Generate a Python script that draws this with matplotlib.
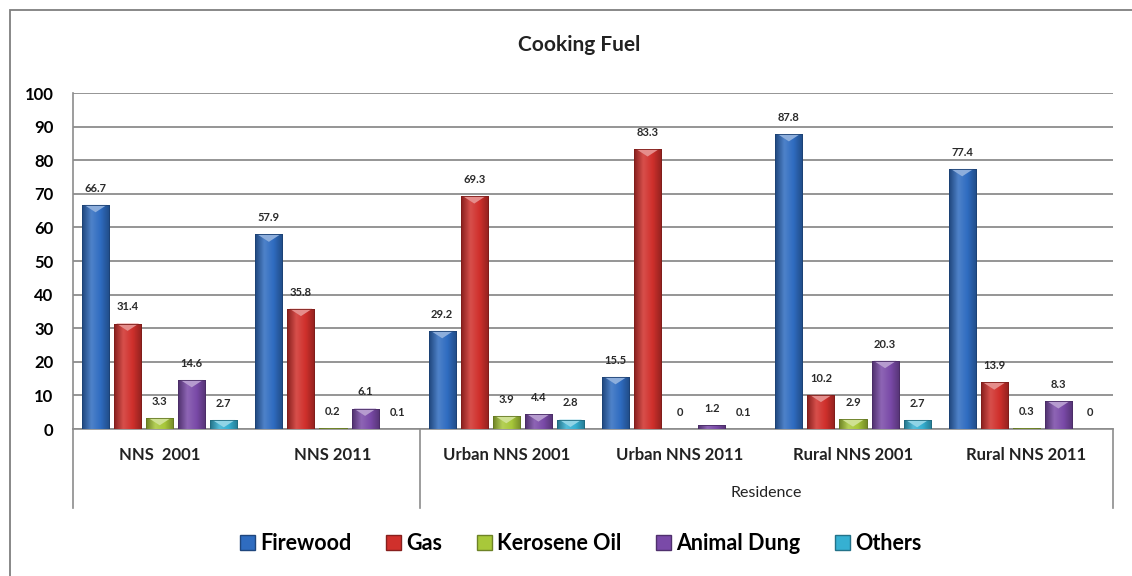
import numpy as np
import matplotlib
matplotlib.use("Agg")
import matplotlib.pyplot as plt
from matplotlib.colors import LinearSegmentedColormap, to_rgb
from matplotlib.patches import Rectangle, Polygon, Patch

plt.rcParams['font.family'] = ['Lato', 'DejaVu Sans']

# data
groups = ['NNS  2001', 'NNS 2011', 'Urban NNS 2001', 'Urban NNS 2011',
          'Rural NNS 2001', 'Rural NNS 2011']
fuels = ['Firewood', 'Gas', 'Kerosene Oil', 'Animal Dung', 'Others']
firewood = [66.7, 57.9, 29.2, 15.5, 87.8, 77.4]
gas = [31.4, 35.8, 69.3, 83.3, 10.2, 13.9]
kerosene = [3.3, 0.2, 3.9, 0, 2.9, 0.3]
dung = [14.6, 6.1, 4.4, 1.2, 20.3, 8.3]
others = [2.7, 0.1, 2.8, 0.1, 2.7, 0]
series = [firewood, gas, kerosene, dung, others]
colors = ['#2f6cc0', '#d0302c', '#a8c83a', '#7a4aa8', '#36b0d2']
yticks = list(range(0, 101, 10))

fig = plt.figure(figsize=(11.32, 5.76), dpi=100)
ax = fig.add_axes([0.0645, 0.2552, 0.9187, 0.5833])

x = np.arange(len(groups))
step = 0.185
width = 0.156


def shade(c, f):
    r = np.array(to_rgb(c))
    if f > 0:
        return tuple(r + (1 - r) * f)
    return tuple(r * (1 + f))


for i, (vals, c) in enumerate(zip(series, colors)):
    pos = x + (i - 2) * step
    bars = ax.bar(pos, vals, width, color=c, edgecolor=shade(c, -0.35),
                  linewidth=0.6, zorder=3)
    cm = LinearSegmentedColormap.from_list(
        'g', [shade(c, -0.35), shade(c, 0.15), c, shade(c, -0.3)])
    grad = np.linspace(0, 1, 64).reshape(1, -1)
    for b, v in zip(bars, vals):
        if v <= 0:
            continue
        x0 = b.get_x()
        im = ax.imshow(grad, extent=(x0, x0 + width, 0, v), aspect='auto',
                       cmap=cm, zorder=3.5, interpolation='bicubic')
        im.set_clip_path(b)
        if v > 2.5:
            tri = Polygon([(x0 + width * 0.08, v), (x0 + width * 0.92, v),
                           (x0 + width / 2, v - 2.2)], closed=True,
                          facecolor=shade(c, 0.45), edgecolor='none', zorder=4)
            ax.add_patch(tri)
        ax.add_patch(Rectangle((x0, 0), width, v, fill=False,
                               edgecolor=shade(c, -0.4), linewidth=0.6, zorder=4))
    for p, v in zip(pos, vals):
        ax.annotate('%g' % v, (p, v), xytext=(0, 8), textcoords='offset points',
                    ha='center', va='bottom', fontsize=8, fontweight='bold',
                    color='#2a2a2a')

ax.set_xlim(-0.5, len(groups) - 0.5)
ax.set_ylim(0, 100)
ax.set_yticks(yticks)
ax.tick_params(axis='y', length=0, labelsize=12, pad=14)
for lab in ax.get_yticklabels():
    lab.set_fontweight('bold')
ax.set_xticks([])
ax.yaxis.grid(True, color='#8c8c8c', linewidth=1.3, zorder=0)
ax.set_axisbelow(True)
for s in ['top', 'right']:
    ax.spines[s].set_visible(False)
ax.spines['left'].set_color('#8c8c8c')
ax.spines['bottom'].set_color('#8c8c8c')
ax.spines['left'].set_linewidth(1.2)
ax.spines['bottom'].set_linewidth(1.2)

# category axis
tr = ax.get_xaxis_transform()
for xv in [-0.5, 1.5, len(groups) - 0.5]:
    ax.plot([xv, xv], [0, -0.235], transform=tr, color='#8c8c8c',
            linewidth=1.2, clip_on=False)
for xi, g in zip(x, groups):
    ax.text(xi, -0.077, g, transform=tr, ha='center', va='center',
            fontsize=12, fontweight='bold', color='#222222')
ax.text(3.5, -0.19, 'Residence', transform=tr, ha='center', va='center',
        fontsize=11.5, color='#222222')

fig.text(0.512, 0.922, 'Cooking Fuel', ha='center', va='center',
         fontsize=15, fontweight='bold', color='#222222')

handles = [Patch(facecolor=c, edgecolor=shade(c, -0.35)) for c in colors]
fig.legend(handles, fuels, loc='center', bbox_to_anchor=(0.513, 0.056), ncol=5,
           frameon=False, handlelength=0.7, handleheight=0.7, handletextpad=0.25,
           columnspacing=1.6, prop={'size': 15.5, 'weight': 'bold'})

# outer frame
fig.patches.append(Rectangle((0.0088, -0.05), 1.1, 0.9826 + 0.05, fill=False,
                             edgecolor='#7f7f7f', linewidth=1.3,
                             transform=fig.transFigure, figure=fig))

fig.savefig('out.png', dpi=100)
